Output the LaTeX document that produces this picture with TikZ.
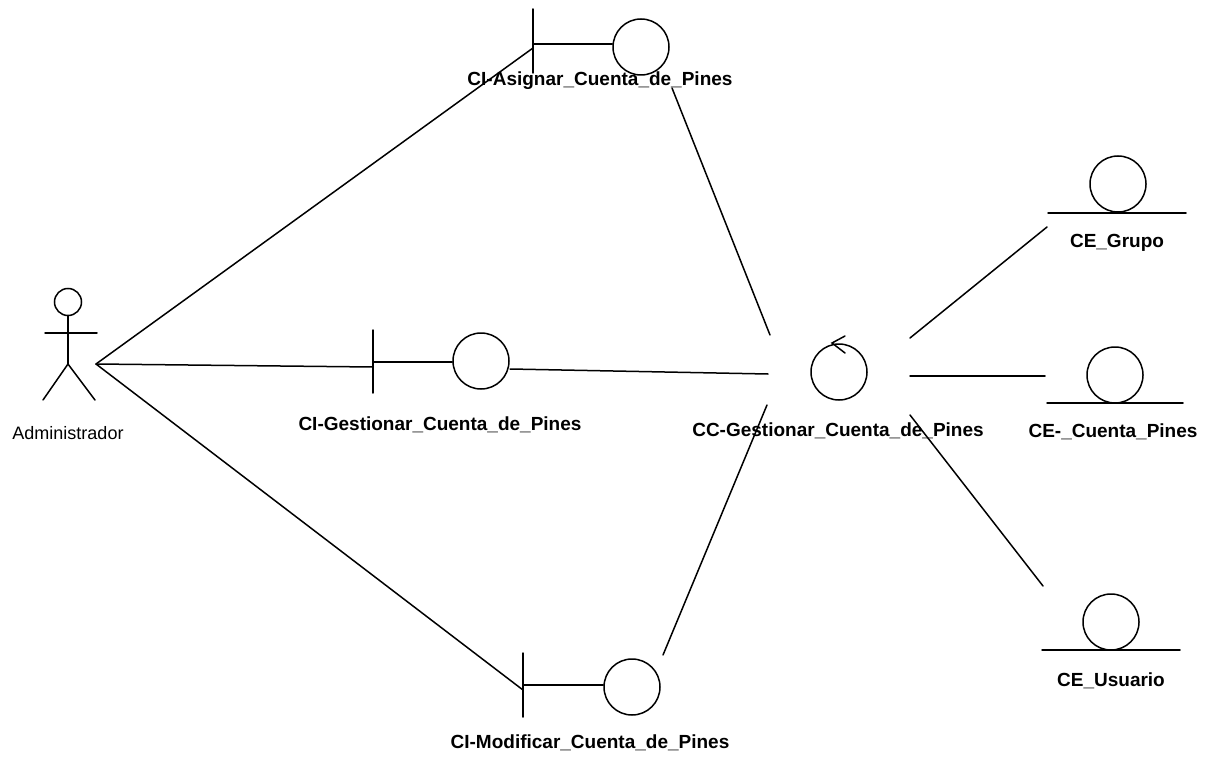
\documentclass[tikz,border=0pt]{standalone}
\usepackage{fontspec}
\setmainfont{Liberation Sans}
\begin{document}
\begin{tikzpicture}[x=1pt,y=-1pt,
  line width=1.5pt, line cap=round,
  ball/.style={circle,draw,minimum size=56pt,inner sep=0pt},
  lbl/.style={font=\bfseries\fontsize{19}{21}\selectfont,inner sep=0pt},
  actlbl/.style={font=\fontsize{18}{20}\selectfont,inner sep=0pt},
  link/.style={draw,line width=1.5pt}]
\useasboundingbox (0,0) rectangle (1207,762);

% actor
\node[circle,draw,minimum size=27pt,inner sep=0pt] (head) at (68,302) {};
\coordinate (hip) at (68,364);
\draw (head.south) -- (hip);
\draw (45,333) -- (97,333);
\draw (43,400) -- (hip) -- (95,400);
\node[actlbl] (admlbl) at (68,433) {Administrador};
\coordinate (adm) at (96,364);

% boundary: CI-Asignar
\node[ball] (asg) at (641,47) {};
\coordinate (asgbar) at (533,44);
\draw (533,9) -- (533,73);
\draw (asgbar) -- (asg.west |- asgbar);
\node[lbl] (asglbl) at (600,81) {CI-Asignar\_Cuenta\_de\_Pines};

% boundary: CI-Gestionar
\node[ball] (ges) at (481,361) {};
\coordinate (gesbar) at (373,362);
\draw (373,330) -- (373,393);
\draw (gesbar) -- (ges.west |- gesbar);
\node[lbl] (geslbl) at (440,425) {CI-Gestionar\_Cuenta\_de\_Pines};

% boundary: CI-Modificar
\node[ball] (mod) at (632,687) {};
\coordinate (modbar) at (523,685);
\draw (523,653) -- (523,717);
\draw (modbar) -- (mod.west |- modbar);
\node[lbl] (modlbl) at (590,743) {CI-Modificar\_Cuenta\_de\_Pines};

% control: CC-Gestionar
\node[ball] (cc) at (839,372) {};
\draw (845,336) -- (832,343) -- (845,353);
\node[lbl] (cclbl) at (838,431) {CC-Gestionar\_Cuenta\_de\_Pines};

% entities
\node[ball] (grp) at (1118,184) {};
\draw (1048,213) -- (1186,213);
\node[lbl] (grplbl) at (1117,243) {CE\_Grupo};

\node[ball] (cta) at (1115,375) {};
\draw (1047,403) -- (1183,403);
\node[lbl] (ctalbl) at (1113,432) {CE-\_Cuenta\_Pines};

\node[ball] (usr) at (1111,622) {};
\draw (1042,650) -- (1180,650);
\node[lbl] (usrlbl) at (1111,681) {CE\_Usuario};

% connector end points
\coordinate (asgout) at (672,88);
\coordinate (ccA) at (770,335);
\coordinate (gesout) at (510,369);
\coordinate (ccB) at (768,374);
\coordinate (modout) at (663,655);
\coordinate (ccC) at (767,405);
\coordinate (ccD) at (910,338);
\coordinate (grpin) at (1047,227);
\coordinate (ccE) at (910,376);
\coordinate (ctain) at (1045,376);
\coordinate (ccF) at (910,415);
\coordinate (usrin) at (1043,586);
\coordinate (asgin) at (533,48);
\coordinate (gesin) at (373,367);
\coordinate (modin) at (523,690);

% associations
\draw[link] (adm) -- (asgin);
\draw[link] (adm) -- (gesin);
\draw[link] (adm) -- (modin);
\draw[link] (asgout) -- (ccA);
\draw[link] (gesout) -- (ccB);
\draw[link] (modout) -- (ccC);
\draw[link] (ccD) -- (grpin);
\draw[link] (ccE) -- (ctain);
\draw[link] (ccF) -- (usrin);
\end{tikzpicture}
\end{document}
